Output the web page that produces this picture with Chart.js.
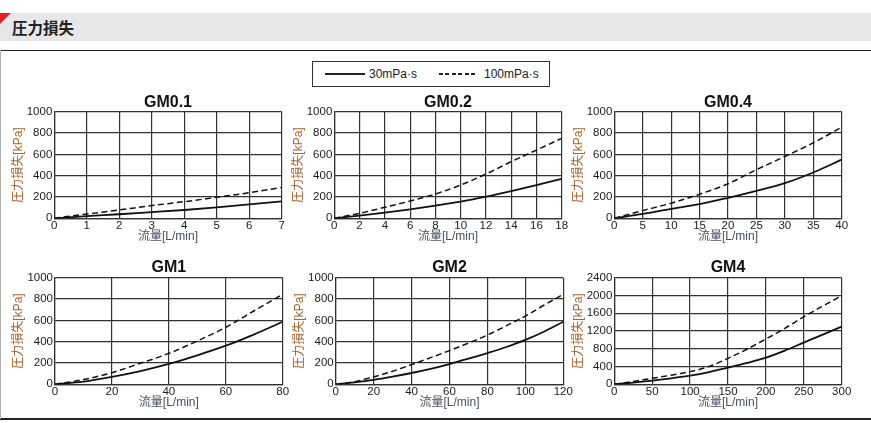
<!DOCTYPE html>
<html><head><meta charset="utf-8">
<script src="https://cdn.jsdelivr.net/npm/chart.js@4.4.0/dist/chart.umd.min.js"></script>
<style>
html,body{margin:0;padding:0;background:#fff;width:871px;height:423px;overflow:hidden;position:relative;}
.abs{position:absolute;}
#band{left:0;top:13px;width:871px;height:28px;background:#e6e7e8;}
#tri{left:0;top:13px;width:0;height:0;border-top:11px solid #e8202a;border-right:11px solid transparent;}
#htext{left:12px;top:13px;height:28px;line-height:28px;font-family:'Noto Sans CJK JP';font-weight:700;font-size:15.5px;color:#222;white-space:nowrap;}
#ftop{left:0;top:49.5px;width:871px;height:1.5px;background:#222;}
#fbot{left:0;top:418px;width:871px;height:2px;background:#222;}
#fleft{left:0;top:50px;width:1px;height:369px;background:#b0b0b0;}
#legbox{left:312px;top:61px;width:238px;height:26px;box-sizing:border-box;border:1px solid #333;}
#ls1{left:325px;top:73px;width:40px;height:2px;background:#222;}
#ls2{left:439px;top:73px;width:36px;height:2px;background:repeating-linear-gradient(to right,#222 0 4px,transparent 4px 6.4px);}
.lt{top:66px;height:16px;line-height:16px;font-family:'Liberation Sans','Noto Sans CJK JP',sans-serif;font-size:12px;color:#222;white-space:nowrap;}
</style>
</head><body>
<div class="abs" id="band"></div>
<div class="abs" id="tri"></div>
<div class="abs" id="htext">圧力損失</div>
<div class="abs" id="ftop"></div>
<div class="abs" id="fbot"></div>
<div class="abs" id="fleft"></div>
<div class="abs" id="legbox"></div>
<div class="abs" id="ls1"></div>
<div class="abs lt" id="lt1" style="left:369px"></div>
<div class="abs" id="ls2"></div>
<div class="abs lt" id="lt2" style="left:484px"></div>
<script>
// ---------- text ----------
const yAxisTitle = '圧力損失[kPa]';
const xAxisTitle = '流量[L/min]';
const seriesNames = ['30mPa·s', '100mPa·s'];
const chartTitles = ['GM0.1', 'GM0.2', 'GM0.4', 'GM1', 'GM2', 'GM4'];

// ---------- GM0.1 ----------
const gm01Flow   = [0, 1, 2, 3, 4, 5, 6, 7];
const gm01Solid  = [0, 20, 38, 58, 78, 102, 130, 158];
const gm01Dashed = [0, 40, 78, 119, 156, 197, 240, 290];
const gm01XTicks = [0, 1, 2, 3, 4, 5, 6, 7];
const gm01YTicks = [0, 200, 400, 600, 800, 1000];

// ---------- GM0.2 ----------
const gm02Flow   = [0, 2, 4, 6, 8, 10, 12, 14, 16, 18];
const gm02Solid  = [0, 25, 53, 84, 119, 156, 203, 256, 312, 369];
const gm02Dashed = [0, 47, 103, 162, 228, 312, 415, 531, 640, 750];
const gm02XTicks = [0, 2, 4, 6, 8, 10, 12, 14, 16, 18];
const gm02YTicks = [0, 200, 400, 600, 800, 1000];

// ---------- GM0.4 ----------
const gm04Flow   = [0, 5, 10, 15, 20, 25, 30, 35, 40];
const gm04Solid  = [0, 41, 88, 132, 192, 258, 330, 430, 550];
const gm04Dashed = [0, 72, 142, 226, 324, 456, 580, 708, 855];
const gm04XTicks = [0, 5, 10, 15, 20, 25, 30, 35, 40];
const gm04YTicks = [0, 200, 400, 600, 800, 1000];

// ---------- GM1 ----------
const gm1Flow   = [0, 10, 20, 30, 40, 50, 60, 70, 80];
const gm1Solid  = [0, 25, 69, 124, 191, 272, 362, 469, 587];
const gm1Dashed = [0, 44, 109, 197, 290, 406, 535, 690, 844];
const gm1XTicks = [0, 20, 40, 60, 80];
const gm1YTicks = [0, 200, 400, 600, 800, 1000];

// ---------- GM2 ----------
const gm2Flow   = [0, 10, 20, 30, 40, 50, 60, 70, 80, 90, 100, 110, 120];
const gm2Solid  = [0, 19, 42, 72, 106, 145, 190, 240, 293, 350, 416, 495, 587];
const gm2Dashed = [0, 25, 69, 122, 185, 250, 316, 387, 462, 550, 640, 744, 844];
const gm2XTicks = [0, 20, 40, 60, 80, 100, 120];
const gm2YTicks = [0, 200, 400, 600, 800, 1000];

// ---------- GM4 ----------
const gm4Flow   = [0, 25, 50, 75, 100, 125, 150, 175, 200, 225, 250, 275, 300];
const gm4Solid  = [0, 37, 82, 135, 195, 275, 375, 480, 600, 760, 940, 1120, 1300];
const gm4Dashed = [0, 65, 135, 205, 285, 400, 585, 790, 1020, 1260, 1520, 1760, 1995];
const gm4XTicks = [0, 50, 100, 150, 200, 250, 300];
const gm4YTicks = [0, 400, 800, 1200, 1600, 2000, 2400];

document.getElementById('lt1').textContent = seriesNames[0];
document.getElementById('lt2').textContent = seriesNames[1];

const FONT = "'Liberation Sans', 'Noto Sans CJK JP', sans-serif";
const GRID = '#333333';
const TICK = '#1e1a1a';
const XT_COLOR = '#4a4f5a';
const YT_COLOR = '#a8642c';

function build(geo, title, flow, solid, dashed, xTicks, yTicks) {
  const L = Math.floor(geo.left) - 54;
  const T = Math.floor(geo.top) - 22;
  const W = Math.ceil(geo.right) + 14 - L;
  const H = Math.ceil(geo.bottom) + 27 - T;
  const c = document.createElement('canvas');
  c.width = W; c.height = H;
  c.style.position = 'absolute';
  c.style.left = L + 'px'; c.style.top = T + 'px';
  c.style.width = W + 'px'; c.style.height = H + 'px';
  document.body.appendChild(c);
  const yW = geo.left - L;
  const xH = T + H - geo.bottom;
  const padRight = L + W - geo.right;
  const tA = geo.top - geo.titleGap - 9.6 - T;
  const tB = geo.top - T - 19.2 - tA;
  const xPadB = (T + H) - 7.2 - (geo.bottom + 18.4);
  const yPadT = (geo.left - 36) - L - 7.2;
  new Chart(c, {
    type: 'line',
    data: {
      datasets: [
        { label: seriesNames[0], data: flow.map((x, i) => ({ x: x, y: solid[i] })),
          borderColor: '#111', borderWidth: 1.8, pointRadius: 0, fill: false,
          cubicInterpolationMode: 'monotone' },
        { label: seriesNames[1], data: flow.map((x, i) => ({ x: x, y: dashed[i] })),
          borderColor: '#111', borderWidth: 1.5, borderDash: [6, 3.5], pointRadius: 0, fill: false,
          cubicInterpolationMode: 'monotone' }
      ]
    },
    options: {
      responsive: false, animation: false, devicePixelRatio: 1,
      layout: { padding: { left: 0, top: 0, right: padRight, bottom: 0 } },
      plugins: {
        legend: { display: false }, tooltip: { enabled: false },
        title: { display: true, text: title, fullSize: false, color: '#111',
                 font: { family: FONT, size: 16, weight: 'bold', lineHeight: 1.2 },
                 padding: { top: tA, bottom: tB } }
      },
      scales: {
        x: {
          type: 'linear', min: xTicks[0], max: xTicks[xTicks.length - 1],
          afterBuildTicks: s => { s.ticks = xTicks.map(v => ({ value: v })); },
          afterFit: s => { s.height = xH; },
          grid: { color: GRID, lineWidth: 1.2, drawTicks: false },
          border: { color: GRID, width: 1.2 },
          ticks: { padding: 1, color: TICK, autoSkip: false, maxRotation: 0,
                   callback: v => String(v),
                   font: { family: FONT, size: 11.5, lineHeight: 1.2 } },
          title: { display: true, text: xAxisTitle, color: XT_COLOR,
                   font: { family: FONT, size: 12, lineHeight: 1.2 },
                   padding: { top: 0, bottom: xPadB } }
        },
        y: {
          type: 'linear', min: yTicks[0], max: yTicks[yTicks.length - 1],
          afterBuildTicks: s => { s.ticks = yTicks.map(v => ({ value: v })); },
          afterFit: s => { s.width = yW; },
          grid: { color: GRID, lineWidth: 1.2, drawTicks: false },
          border: { color: GRID, width: 1.2 },
          ticks: { padding: 2, color: TICK, autoSkip: false,
                   callback: v => String(v),
                   font: { family: FONT, size: 11.5, lineHeight: 1.2 } },
          title: { display: true, text: yAxisTitle, color: YT_COLOR,
                   font: { family: FONT, size: 12, lineHeight: 1.2 },
                   padding: { top: yPadT, bottom: 0 } }
        }
      }
    }
  });
}

build({left: 54.3, right: 281.7, top: 111.7, bottom: 218.3, titleGap: 9.4}, chartTitles[0], gm01Flow, gm01Solid, gm01Dashed, gm01XTicks, gm01YTicks);
build({left: 334.3, right: 561.7, top: 111.7, bottom: 218.3, titleGap: 9.4}, chartTitles[1], gm02Flow, gm02Solid, gm02Dashed, gm02XTicks, gm02YTicks);
build({left: 614.3, right: 841.7, top: 111.7, bottom: 218.3, titleGap: 9.4}, chartTitles[2], gm04Flow, gm04Solid, gm04Dashed, gm04XTicks, gm04YTicks);
build({left: 55, right: 282.7, top: 277.7, bottom: 384.3, titleGap: 10.4}, chartTitles[3], gm1Flow, gm1Solid, gm1Dashed, gm1XTicks, gm1YTicks);
build({left: 335.7, right: 563.3, top: 277.7, bottom: 384.3, titleGap: 10.4}, chartTitles[4], gm2Flow, gm2Solid, gm2Dashed, gm2XTicks, gm2YTicks);
build({left: 614.3, right: 841.7, top: 277.7, bottom: 384.3, titleGap: 10.4}, chartTitles[5], gm4Flow, gm4Solid, gm4Dashed, gm4XTicks, gm4YTicks);
</script>
</body></html>
